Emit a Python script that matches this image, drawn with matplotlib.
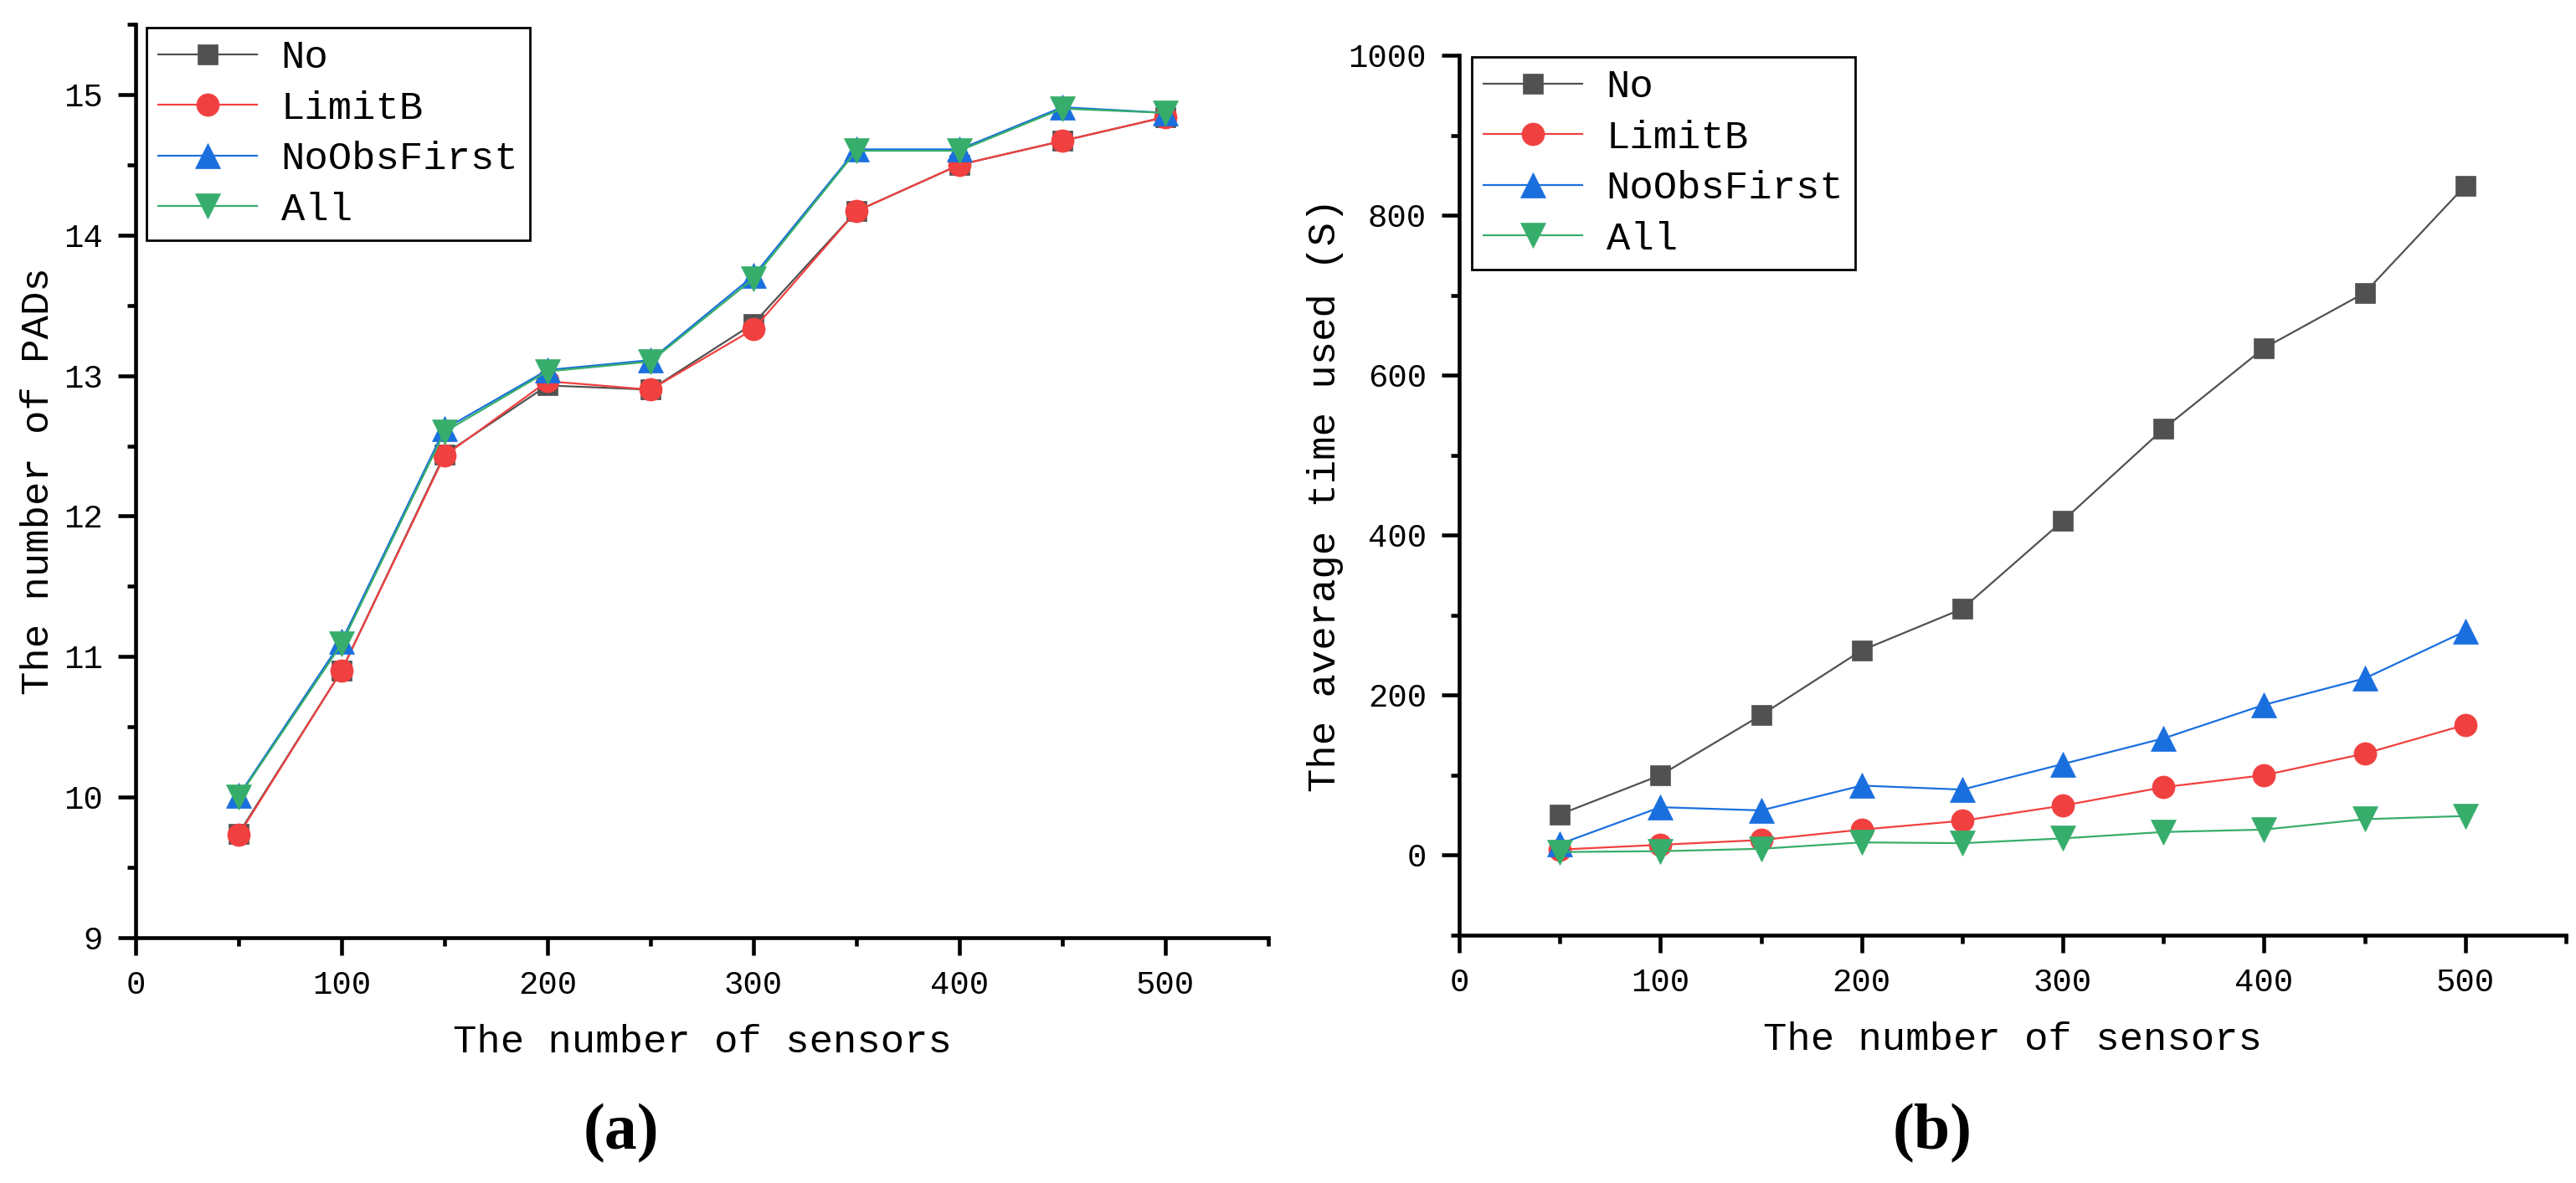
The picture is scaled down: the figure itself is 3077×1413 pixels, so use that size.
import matplotlib
matplotlib.use("Agg")
import matplotlib.pyplot as plt
from matplotlib.ticker import MultipleLocator

sensors = [50, 100, 150, 200, 250, 300, 350, 400, 450, 500]
series_names = ["No", "LimitB", "NoObsFirst", "All"]

pads_no = [9.74, 10.90, 12.44, 12.93, 12.90, 13.37, 14.17, 14.50, 14.67, 14.84]
pads_limitb = [9.73, 10.90, 12.43, 12.96, 12.90, 13.33, 14.17, 14.50, 14.67, 14.84]
pads_noobs = [10.01, 11.11, 12.62, 13.04, 13.11, 13.71, 14.61, 14.61, 14.91, 14.87]
pads_all = [10.00, 11.09, 12.60, 13.03, 13.10, 13.69, 14.60, 14.60, 14.90, 14.87]

time_no = [51, 100, 175, 256, 308, 418, 533, 634, 703, 837]
time_limitb = [7, 13, 19, 32, 43, 62, 85, 100, 127, 163]
time_noobs = [14, 60, 56, 87, 82, 114, 146, 188, 221, 280]
time_all = [4, 5, 8, 16, 15, 21, 29, 32, 45, 49]

colors = ["#515151", "#F14040", "#1A6FDF", "#37AD6B"]
markers = ["s", "o", "^", "v"]
msizes = [17, 19.5, 21, 21]

plt.rcParams['font.family'] = ['Liberation Mono', 'DejaVu Sans']

fig = plt.figure(figsize=(30.77, 14.13), dpi=100)
axA = fig.add_axes([162/3077, 1-1120/1413, (1515-162)/3077, (1120-29)/1413])
axB = fig.add_axes([1743/3077, 1-1117/1413, (3065-1743)/3077, (1117-66)/1413])

def style(ax):
    for s in ["top", "right"]:
        ax.spines[s].set_visible(False)
    for s in ["left", "bottom"]:
        ax.spines[s].set_linewidth(3.3)
    ax.tick_params(which="major", direction="out", length=15, width=3.3, labelsize=28, pad=13)
    ax.tick_params(which="minor", direction="out", length=7.5, width=3.3)
    ax.set_xlim(0, 550)
    ax.xaxis.set_major_locator(MultipleLocator(100))
    ax.xaxis.set_minor_locator(MultipleLocator(50))
    ax.set_xlabel("The number of sensors", fontsize=34, labelpad=20)

for ax, data in [(axA, [pads_no, pads_limitb, pads_noobs, pads_all]),
                 (axB, [time_no, time_limitb, time_noobs, time_all])]:
    for name, vals, c, m, ms in zip(series_names, data, colors, markers, msizes):
        ax.plot(sensors, vals, color=c, marker=m, markersize=ms, linewidth=1.6,
                markeredgecolor=c, markeredgewidth=0.5, label=name, clip_on=False)
    style(ax)

axA.set_ylim(9, 15.5)
axA.yaxis.set_major_locator(MultipleLocator(1))
axA.yaxis.set_minor_locator(MultipleLocator(0.5))
axA.set_ylabel("The number of PADs", fontsize=34, labelpad=6)

axB.set_ylim(-100, 1000)
axB.yaxis.set_major_locator(MultipleLocator(200))
axB.yaxis.set_minor_locator(MultipleLocator(100))
axB.set_ylabel("The average time used (S)", fontsize=34, labelpad=4)

for ax, anchor in [(axA, (175/3077, 1-33/1413)), (axB, (1758/3077, 1-68/1413))]:
    leg = ax.legend(loc="upper left", bbox_to_anchor=anchor, bbox_transform=fig.transFigure,
                    fontsize=34, frameon=True, fancybox=False, framealpha=1, edgecolor="black",
                    borderpad=0.3, labelspacing=0.35, handlelength=2.5, handletextpad=0.6,
                    borderaxespad=0, numpoints=1)
    leg.get_frame().set_linewidth(2.0)

fig.text(742/3077, 1-1354/1413, "(a)", fontsize=56, fontweight="bold",
         family="Liberation Serif", ha="center", va="center")
fig.text(2308/3077, 1-1354/1413, "(b)", fontsize=56, fontweight="bold",
         family="Liberation Serif", ha="center", va="center")

fig.savefig("out.png", dpi=100)
